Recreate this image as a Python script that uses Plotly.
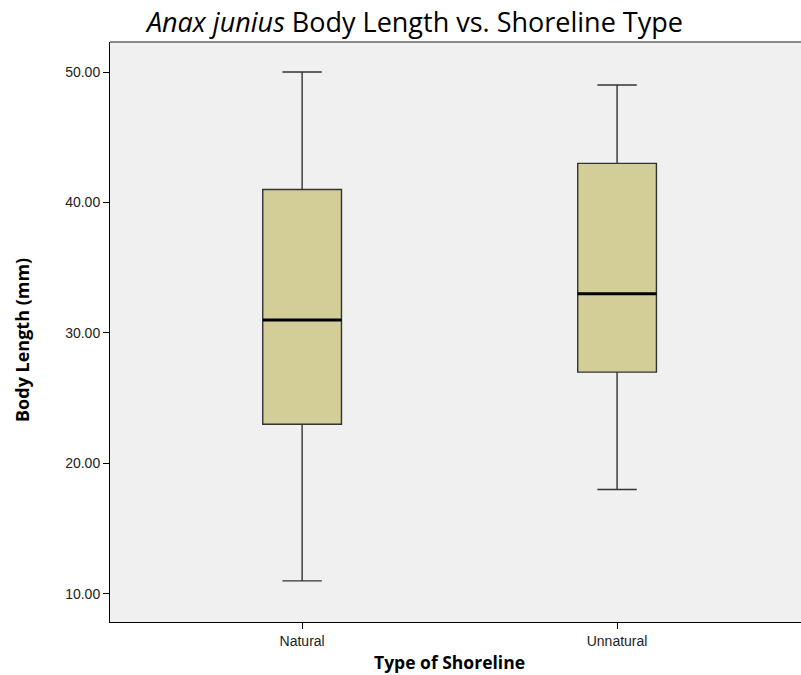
import plotly.graph_objects as go

categories = ["Natural", "Unnatural"]
lower_whisker = [11.0, 18.0]
q1 = [23.0, 27.0]
median = [31.0, 33.0]
q3 = [41.0, 43.0]
upper_whisker = [50.0, 49.0]
y_ticks = [10.0, 20.0, 30.0, 40.0, 50.0]

box_width = 0.25
xpos = list(range(len(categories)))

fig = go.Figure()
fig.add_trace(go.Box(
    x=xpos,
    q1=q1, median=median, q3=q3,
    lowerfence=lower_whisker, upperfence=upper_whisker,
    width=box_width,
    whiskerwidth=0.5,
    fillcolor="#d3ce97",
    line=dict(color="#333333", width=1.4),
    boxpoints=False,
    hoverinfo="skip",
    showlegend=False,
))

shapes = []
for i, m in zip(xpos, median):
    shapes.append(dict(type="line", xref="x", yref="y",
                       x0=i - box_width / 2, x1=i + box_width / 2, y0=m, y1=m,
                       line=dict(color="black", width=3)))
shapes.append(dict(type="line", xref="paper", yref="paper", x0=0, x1=1, y0=1, y1=1,
                   line=dict(color="#8a8a8a", width=2)))

tick_font = dict(family="Liberation Sans, Arial, sans-serif", size=14, color="#222222")
title_family = "Open Sans, Noto Sans, sans-serif"

annotations = [
    dict(text="<b>Type of Shoreline</b>", xref="paper", yref="paper",
         x=0, y=0, xanchor="center", yanchor="middle", xshift=339, yshift=-40,
         showarrow=False, font=dict(family=title_family, size=17.5, color="black")),
    dict(text="<b>Body Length (mm)</b>", xref="paper", yref="paper",
         x=0, y=0, xanchor="center", yanchor="middle", xshift=-88, yshift=282,
         textangle=-90,
         showarrow=False, font=dict(family=title_family, size=18, color="black")),
]

fig.update_layout(
    width=801, height=675,
    margin=dict(l=110, r=0, t=42, b=53),
    paper_bgcolor="white",
    plot_bgcolor="#f0f0f0",
    title=dict(text="<i>Anax junius</i> Body Length vs. Shoreline Type",
               x=0.518, xanchor="center", y=0.966, yanchor="middle",
               font=dict(family=title_family, size=27, color="black")),
    shapes=shapes,
    annotations=annotations,
    xaxis=dict(
        range=[-0.61, 1.584],
        tickmode="array", tickvals=xpos, ticktext=categories,
        showgrid=False, zeroline=False,
        showline=True, linecolor="black", linewidth=1,
        ticks="outside", ticklen=6, tickcolor="black", tickwidth=1,
        tickfont=tick_font,
    ),
    yaxis=dict(
        range=[7.85, 52.3],
        tickmode="array", tickvals=y_ticks, ticktext=[f"{v:.2f}" for v in y_ticks],
        showgrid=False, zeroline=False,
        showline=True, linecolor="black", linewidth=1,
        ticks="outside", ticklen=6, tickcolor="black", tickwidth=1,
        tickfont=tick_font,
    ),
)

fig.write_html("out.html",
               config={"displayModeBar": False},
               post_script="document.body.style.margin='0';document.body.style.overflow='hidden';")
